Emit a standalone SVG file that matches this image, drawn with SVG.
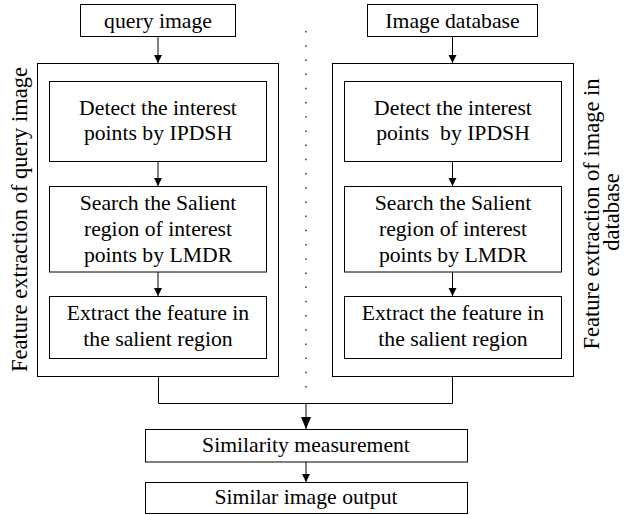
<svg xmlns="http://www.w3.org/2000/svg" width="624" height="515" viewBox="0 0 624 515" font-family="'Liberation Serif', 'Times New Roman', Times, serif">
  <style>
    .box { fill: #fff; stroke: #000; stroke-width: 1; }
    .frame { fill: none; stroke: #000; stroke-width: 1; }
    .lbl { font-family: 'Liberation Serif', 'Times New Roman', Times, serif; font-size: 21.7px; fill: #000; text-anchor: middle; }
    .side { font-family: 'Liberation Serif', 'Times New Roman', Times, serif; font-size: 22.5px; fill: #000; text-anchor: middle; }
    .wire { fill: none; stroke: #000; stroke-width: 1; }
    .dots { fill: none; stroke: #333; stroke-width: 1.5; stroke-dasharray: 1.5 12.7; }
  </style>
  <defs>
    <marker id="arr" markerUnits="userSpaceOnUse" markerWidth="10" markerHeight="10" refX="8" refY="4" orient="auto">
      <path d="M0,0 L8,4 L0,8 Z" fill="#000"/>
    </marker>
    <marker id="arrBig" markerUnits="userSpaceOnUse" markerWidth="14" markerHeight="12" refX="12" refY="5" orient="auto">
      <path d="M0,0 L12,5 L0,10 Z" fill="#000"/>
    </marker>
  </defs>

  <!-- dotted separator between the two branches -->
  <line class="dots" x1="306" y1="31" x2="306" y2="388"/>

  <!-- side captions -->
  <g id="caption-query">
    <text class="side" transform="translate(27,219.5) rotate(-90)">Feature extraction of query image</text>
  </g>
  <g id="caption-db">
    <text class="side" transform="translate(599,214) rotate(-90)">Feature extraction of image in</text>
    <text class="side" transform="translate(619,212) rotate(-90)">database</text>
  </g>

  <!-- left branch -->
  <g id="query-image">
    <rect class="box" x="80.5" y="4.5" width="155" height="32"/>
    <text class="lbl" x="158" y="28">query image</text>
  </g>
  <g id="query-frame">
    <rect class="frame" x="37.5" y="63.5" width="241" height="313"/>
  </g>
  <g id="q-detect">
    <rect class="box" x="49.5" y="81.5" width="217" height="80"/>
    <text class="lbl" x="158" y="115">Detect the interest</text>
    <text class="lbl" x="158" y="140">points by IPDSH</text>
  </g>
  <g id="q-search">
    <rect class="box" x="49.5" y="186.5" width="217" height="85.5"/>
    <text class="lbl" x="158" y="210">Search the Salient</text>
    <text class="lbl" x="158" y="236">region of interest</text>
    <text class="lbl" x="158" y="262">points by LMDR</text>
  </g>
  <g id="q-extract">
    <rect class="box" x="49.5" y="296.5" width="217" height="62"/>
    <text class="lbl" x="158" y="320">Extract the feature in</text>
    <text class="lbl" x="158" y="346">the salient region</text>
  </g>

  <!-- right branch -->
  <g id="image-database">
    <rect class="box" x="367.5" y="4.5" width="170" height="32"/>
    <text class="lbl" x="452.5" y="28">Image database</text>
  </g>
  <g id="db-frame">
    <rect class="frame" x="332.5" y="63.5" width="241" height="313"/>
  </g>
  <g id="d-detect">
    <rect class="box" x="344.5" y="81.5" width="217" height="80"/>
    <text class="lbl" x="453" y="115">Detect the interest</text>
    <text class="lbl" x="453" y="140">points&#160; by IPDSH</text>
  </g>
  <g id="d-search">
    <rect class="box" x="344.5" y="186.5" width="217" height="85.5"/>
    <text class="lbl" x="453" y="210">Search the Salient</text>
    <text class="lbl" x="453" y="236">region of interest</text>
    <text class="lbl" x="453" y="262">points by LMDR</text>
  </g>
  <g id="d-extract">
    <rect class="box" x="344.5" y="296.5" width="217" height="62"/>
    <text class="lbl" x="453" y="320">Extract the feature in</text>
    <text class="lbl" x="453" y="346">the salient region</text>
  </g>

  <!-- shared tail -->
  <g id="similarity">
    <rect class="box" x="145.5" y="429.5" width="322" height="32.5"/>
    <text class="lbl" x="306" y="452">Similarity measurement</text>
  </g>
  <g id="output">
    <rect class="box" x="145.5" y="482.5" width="322" height="31"/>
    <text class="lbl" x="306" y="503.5">Similar image output</text>
  </g>

  <!-- connectors -->
  <g id="connectors">
    <line class="wire" x1="158" y1="37" x2="158" y2="63" marker-end="url(#arr)"/>
    <line class="wire" x1="452.5" y1="37" x2="452.5" y2="63" marker-end="url(#arr)"/>
    <line class="wire" x1="158" y1="162" x2="158" y2="186" marker-end="url(#arr)"/>
    <line class="wire" x1="158" y1="272" x2="158" y2="296" marker-end="url(#arr)"/>
    <line class="wire" x1="452.5" y1="162" x2="452.5" y2="186" marker-end="url(#arr)"/>
    <line class="wire" x1="452.5" y1="272" x2="452.5" y2="296" marker-end="url(#arr)"/>
    <path class="wire" d="M158.5,377 V403.5 H452.5 V377"/>
    <line class="wire" x1="306" y1="403.5" x2="306" y2="429" marker-end="url(#arrBig)"/>
    <line class="wire" x1="306" y1="462" x2="306" y2="482" marker-end="url(#arr)"/>
  </g>
</svg>
